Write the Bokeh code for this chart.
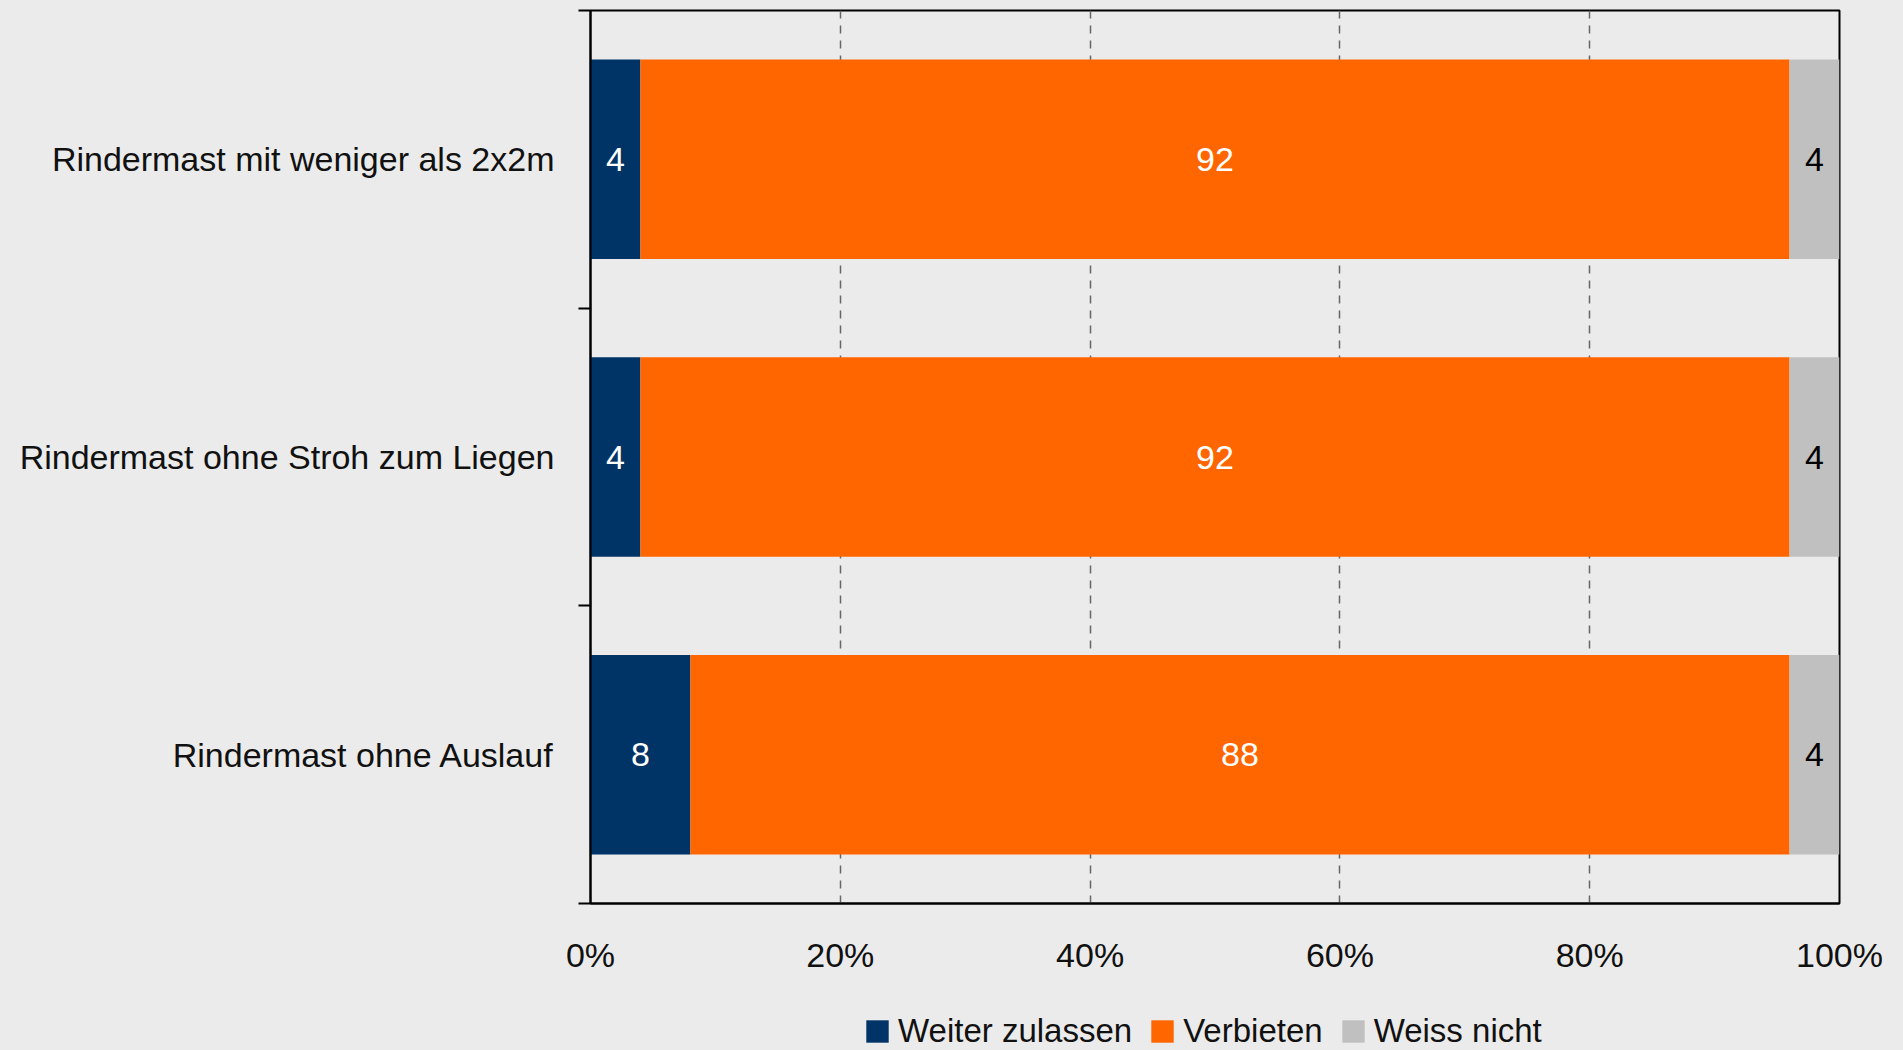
from bokeh.plotting import figure
from bokeh.models import ColumnDataSource, Range1d, FixedTicker, Legend, LegendItem
from bokeh.layouts import column
from bokeh.core.properties import value
from bokeh.embed import file_html
from bokeh.resources import INLINE

categories = ["Rindermast ohne Auslauf", "Rindermast ohne Stroh zum Liegen", "Rindermast mit weniger als 2x2m"]
weiter_zulassen = [8, 4, 4]
verbieten = [88, 92, 92]
weiss_nicht = [4, 4, 4]
series_names = ["Weiter zulassen", "Verbieten", "Weiss nicht"]
series_colors = ["#003366", "#FF6600", "#C0C0C0"]
label_colors = ["#FFFFFF", "#FFFFFF", "#000000"]
x_ticks = [0, 20, 40, 60, 80, 100]
x_tick_labels = ["0%", "20%", "40%", "60%", "80%", "100%"]

FONT = "Liberation Sans"
BG = "#EBEBEB"
W = 1903
H_MAIN = 1000
H_LEG = 50
BL, BR = 590, 64

p = figure(width=W, height=H_MAIN, output_backend="svg", toolbar_location=None,
           x_range=Range1d(0, 100), y_range=Range1d(0, 3),
           min_border_left=BL, min_border_right=BR, min_border_top=10,
           min_border_bottom=H_MAIN - 903)
p.background_fill_color = BG
p.border_fill_color = BG
p.outline_line_color = "black"
p.outline_line_width = 2

ys = [i + 0.5 for i in range(len(categories))]
series = [weiter_zulassen, verbieten, weiss_nicht]
left = [0] * len(categories)
for vals, name, col, lcol in zip(series, series_names, series_colors, label_colors):
    right = [l + v for l, v in zip(left, vals)]
    src = ColumnDataSource(dict(y=ys, left=left, right=right,
                                mid=[(l + r) / 2 for l, r in zip(left, right)],
                                txt=[str(v) for v in vals]))
    p.hbar(y="y", left="left", right="right", height=0.67, source=src,
           fill_color=col, line_color=None)
    p.text(x="mid", y="y", text="txt", source=src, text_align="center", text_baseline="middle",
           text_color=lcol, text_font=value(FONT), text_font_size="34px")
    left = right

# grid
p.ygrid.visible = False
p.xgrid.ticker = FixedTicker(ticks=x_ticks[1:-1])
p.xgrid.grid_line_color = "#666666"
p.xgrid.grid_line_dash = "8 7"
p.xgrid.grid_line_width = 1.5

# x axis
p.xaxis.ticker = FixedTicker(ticks=x_ticks)
p.xaxis.major_label_overrides = {t: l for t, l in zip(x_ticks, x_tick_labels)}
p.xaxis.major_tick_out = 0
p.xaxis.major_tick_in = 0
p.xaxis.minor_tick_out = 0
p.xaxis.axis_line_color = "black"
p.xaxis.axis_line_width = 2
p.xaxis.major_label_standoff = 32
p.xaxis.major_label_text_font = FONT
p.xaxis.major_label_text_font_size = "34px"
p.xaxis.major_label_text_color = "#111111"

# y axis
p.yaxis.ticker = FixedTicker(ticks=ys, minor_ticks=[0, 1, 2, 3])
p.yaxis.major_label_overrides = {y: c for y, c in zip(ys, categories)}
p.yaxis.major_tick_out = 0
p.yaxis.major_tick_in = 0
p.yaxis.minor_tick_out = 12
p.yaxis.minor_tick_in = 0
p.yaxis.minor_tick_line_color = "black"
p.yaxis.minor_tick_line_width = 2
p.yaxis.axis_line_color = "black"
p.yaxis.axis_line_width = 2
p.yaxis.major_label_standoff = 24
p.yaxis.major_label_text_font = FONT
p.yaxis.major_label_text_font_size = "34px"
p.yaxis.major_label_text_color = "#111111"

# legend strip (frame aligned with the main frame)
pl = figure(width=W, height=H_LEG, output_backend="svg", toolbar_location=None,
            x_axis_type=None, y_axis_type=None, x_range=Range1d(0, 1), y_range=Range1d(0, 1),
            min_border_left=BL, min_border_right=BR, min_border_top=0, min_border_bottom=0)
pl.background_fill_color = BG
pl.border_fill_color = BG
pl.outline_line_color = None
pl.grid.visible = False
items = []
nan = float("nan")
for name, col in zip(series_names, series_colors):
    # legend proxy: no visible data
    r = pl.hbar(y=[nan], left=[nan], right=[nan], height=1, fill_color=col, line_color=None)
    items.append(LegendItem(label=name, renderers=[r]))
legend = Legend(items=items, orientation="horizontal", location=(863 - BL, 0),
                glyph_width=28, glyph_height=28, label_standoff=7, spacing=16,
                padding=0, margin=0, background_fill_alpha=0, border_line_color=None,
                label_text_font=FONT, label_text_font_size="33px", label_text_color="#111111",
                label_height=22)
pl.add_layout(legend, "center")

layout = column(p, pl, spacing=0)
html = file_html(layout, INLINE)
html = html.replace("<body>", '<body style="background-color:#EBEBEB;">')
open("out.html", "w").write(html)
